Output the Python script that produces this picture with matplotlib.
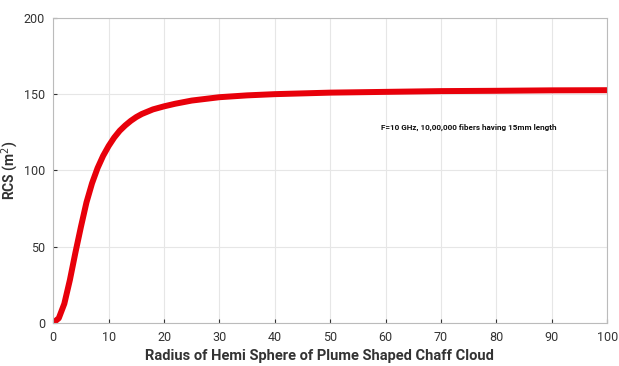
import numpy as np
import matplotlib.pyplot as plt

# values
radius = [0, 1, 2, 3, 4, 5, 6, 7, 8, 9, 10, 11, 12, 13, 14, 15, 16, 18, 20, 22, 25,
          30, 35, 40, 50, 60, 70, 80, 90, 100]
rcs = [0, 3, 12.5, 28, 46, 63, 79, 91.5, 101.5, 109.5, 116, 121.5, 126, 129.5, 132.5,
       135, 137, 140, 142, 143.7, 145.8, 148, 149.2, 150, 151, 151.5, 152, 152.2,
       152.5, 152.6]

x_ticks = [0, 10, 20, 30, 40, 50, 60, 70, 80, 90, 100]
y_ticks = [0, 50, 100, 150, 200]
note = "F=10 GHz, 10,00,000 fibers having 15mm length"

plt.rcParams['font.family'] = ['Roboto', 'DejaVu Sans']

fig = plt.figure(figsize=(6.19, 3.66), dpi=100)
ax = fig.add_axes([0.086, 0.118, 0.895, 0.833])

ax.plot(radius, rcs, color='#e8000a', linewidth=4.3, solid_capstyle='round',
        solid_joinstyle='round')

ax.set_xlim(0, 100)
ax.set_ylim(0, 200)
ax.set_xticks(x_ticks)
ax.set_yticks(y_ticks)
ax.grid(True, color='#e6e6e6', linewidth=0.8)
ax.tick_params(direction='in', length=3, labelsize=9, colors='#333333', pad=6)
for s in ax.spines.values():
    s.set_color('#bbbbbb')

ax.text(59.2, 128.5, note, fontsize=5.9, va='center', ha='left', color='#111111',
        fontweight='bold')

ax.set_xlabel("Radius of Hemi Sphere of Plume Shaped Chaff Cloud", fontsize=10.5,
              fontweight='bold', color='#333333', labelpad=-3)
ax.xaxis.set_label_coords(0.48, -0.085)
ax.set_ylabel("RCS (m$^2$)", fontsize=10, fontweight='bold', color='#333333', labelpad=2)

fig.savefig("out.png", dpi=100)
